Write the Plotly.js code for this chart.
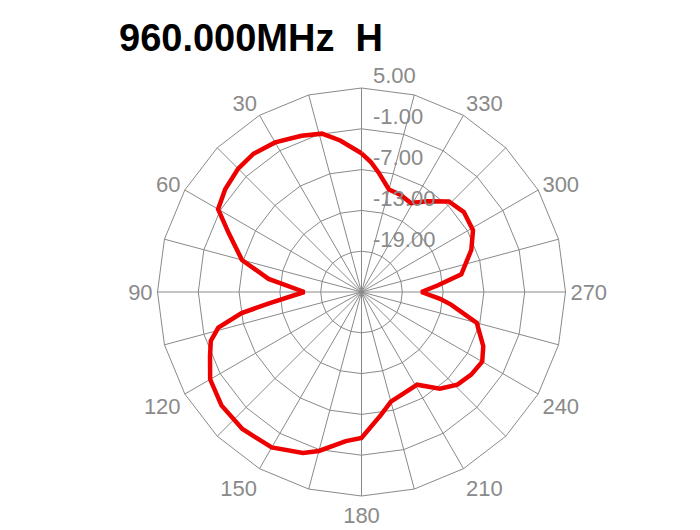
<!DOCTYPE html>
<html>
<head>
<meta charset="utf-8">
<script src="https://cdn.plot.ly/plotly-3.0.1.min.js"></script>
<style>html,body{margin:0;padding:0;background:#fff;}#chart{width:700px;height:530px;}</style>
</head>
<body>
<div id="chart"></div>
<script>
// Pattern data: angle (deg) and level (dB)
const angles = [0, 8, 14, 21, 30, 38, 45, 53, 60, 66, 75, 82, 90, 97, 100, 104, 108, 113, 120, 129, 139, 150, 160, 165, 174, 180, 189, 195, 211, 219, 226, 233, 240, 246, 255, 262, 265, 270, 275, 280, 291, 299, 308, 316, 324, 331, 338, 345, 352, 356, 360];
const levels = [-4.6, -2.5, -1.0, -0.4, 0.4, 0.8, 0.65, 0.1, -0.65, -3.6, -6.8, -11.2, -16.6, -11.3, -7.1, -3.3, -1.7, -0.8, 0.7, 1.5, 1.7, 1.4, 0.2, -0.8, -2.95, -3.55, -6.7, -8.3, -9.1, -6.7, -5.4, -4.8, -4.5, -5.4, -7.45, -11.7, -13.4, -16.2, -13.7, -10.1, -7.7, -6.25, -5.9, -6.5, -8.5, -10.05, -9.6, -9.4, -7.2, -5.8, -4.6];

// Axis ticks
const radialTickVals = [5, -1, -7, -13, -19];
const radialTickText = ['5.00', '-1.00', '-7.00', '-13.00', '-19.00'];
const angularCategories = ['0', '15', '30', '45', '60', '75', '90', '105', '120', '135', '150', '165', '180', '195', '210', '225', '240', '255', '270', '285', '300', '315', '330', '345'];
const angularTickText = ['', '', '30', '', '60', '', '90', '', '120', '', '150', '', '180', '', '210', '', '240', '', '270', '', '300', '', '330', ''];
const radialRange = [-25, 5];
const titleText = '960.000MHz  H';

// geometry / style
const W = 700, H = 530;
const cx = 361.5, cy = 292, R = 204;           // grid circle in px
const labelLift = 2.3;                          // dB the radial labels sit above their ring
const extra = 3;                                // dB of extra room on the label/data overlay
const R2 = R * (radialRange[1] + extra - radialRange[0]) / (radialRange[1] - radialRange[0]);
const grey = '#8a8a8a';
const labelFont = {family: 'Liberation Sans, Arial, sans-serif', size: 22, color: grey};

// helper trace that only defines the category grid (invisible)
const gridTrace = {
  type: 'scatterpolar',
  subplot: 'polar',
  mode: 'markers',
  theta: angularCategories,
  r: angularCategories.map(() => radialRange[0]),
  marker: {opacity: 0, size: 1},
  hoverinfo: 'none'
};

const trace = {
  type: 'scatterpolar',
  subplot: 'polar2',
  mode: 'lines',
  theta: angles,
  r: levels,
  line: {color: '#ee0000', width: 4.5},
  hoverinfo: 'none'
};

const layout = {
  width: W,
  height: H,
  margin: {l: 0, r: 0, t: 0, b: 0},
  paper_bgcolor: '#ffffff',
  showlegend: false,
  title: {
    text: '<b>' + titleText + '</b>',
    x: 119 / W,
    xanchor: 'left',
    y: 1 - 38 / H,
    yanchor: 'middle',
    font: {family: 'Liberation Sans, Arial, sans-serif', size: 38, color: '#000000'}
  },
  polar: {
    domain: {x: [(cx - R) / W, (cx + R) / W], y: [(H - cy - R) / H, (H - cy + R) / H]},
    bgcolor: '#ffffff',
    gridshape: 'linear',
    radialaxis: {
      range: radialRange,
      tickvals: radialTickVals,
      showticklabels: false,
      angle: 90,
      showline: false,
      ticks: '',
      gridcolor: grey,
      gridwidth: 1,
      layer: 'below traces'
    },
    angularaxis: {
      type: 'category',
      categoryorder: 'array',
      categoryarray: angularCategories,
      rotation: 90,
      direction: 'counterclockwise',
      tickmode: 'array',
      tickvals: angularCategories,
      ticktext: angularTickText,
      ticks: '',
      showline: true,
      linecolor: grey,
      linewidth: 1,
      gridcolor: grey,
      gridwidth: 1,
      tickfont: labelFont,
      layer: 'below traces'
    }
  },
  polar2: {
    domain: {x: [(cx - R2) / W, (cx + R2) / W], y: [(H - cy - R2) / H, (H - cy + R2) / H]},
    bgcolor: 'rgba(0,0,0,0)',
    radialaxis: {
      range: [radialRange[0], radialRange[1] + extra],
      tickvals: radialTickVals.map(v => v + labelLift),
      ticktext: radialTickText,
      angle: 90,
      side: 'clockwise',
      showline: false,
      showgrid: false,
      ticks: '',
      tickfont: labelFont
    },
    angularaxis: {
      rotation: 90,
      direction: 'counterclockwise',
      showline: false,
      showgrid: false,
      showticklabels: false,
      ticks: ''
    }
  }
};

Plotly.newPlot('chart', [gridTrace, trace], layout, {staticPlot: true, displayModeBar: false});
</script>
</body>
</html>
